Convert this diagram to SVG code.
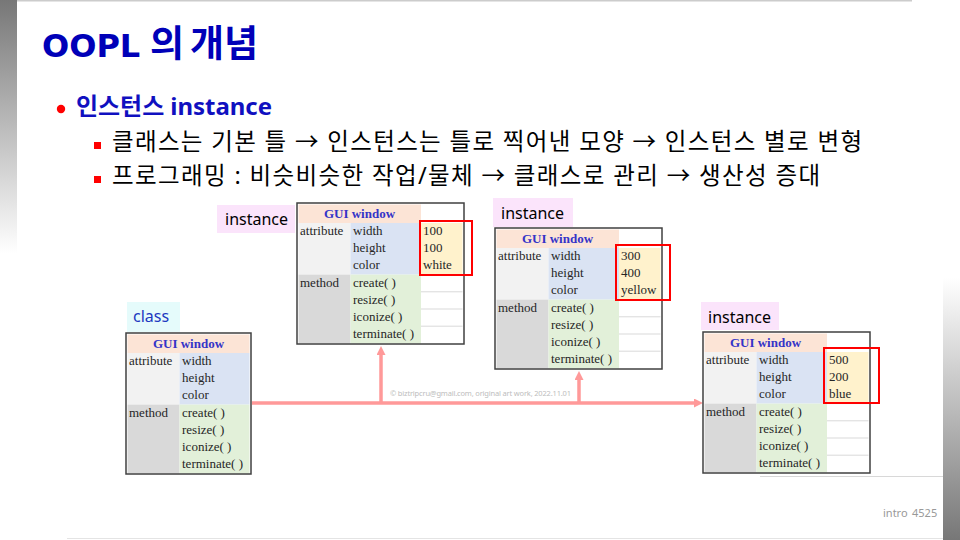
<svg xmlns="http://www.w3.org/2000/svg" xmlns:xlink="http://www.w3.org/1999/xlink" width="960" height="540" viewBox="0 0 960 540">
<defs>
<linearGradient id="gL" x1="0" y1="0" x2="0" y2="1"><stop offset="0" stop-color="#777777"/><stop offset="1" stop-color="#ffffff"/></linearGradient>
<linearGradient id="gR" x1="0" y1="0" x2="0" y2="1"><stop offset="0" stop-color="#ffffff"/><stop offset="1" stop-color="#777777"/></linearGradient>
<marker id="ah" markerWidth="10" markerHeight="10" refX="3" refY="4.5" orient="auto" markerUnits="userSpaceOnUse"><path d="M0,0 L9,4.5 L0,9 z" fill="#ff9999"/></marker>
<g id="instCells">
<rect x="1.5" y="1.5" width="122.5" height="18.5" class="hdr"/>
<rect x="1.5" y="20" width="52" height="51.6" class="al"/>
<rect x="53.5" y="20" width="70.5" height="51.6" class="av"/>
<rect x="124" y="20" width="41.5" height="51.6" class="ax"/>
<rect x="1.5" y="71.6" width="52" height="68.8" class="ml"/>
<rect x="53.5" y="71.6" width="70.5" height="68.8" class="mv"/>
<path d="M124 71.6 H165.5 M124 88.8 H165.5 M124 106 H165.5 M124 123.2 H165.5" class="sep"/>
<rect x="0" y="0" width="167" height="141" class="outer"/>
</g>
</defs>
<style>
.t{font-family:"Liberation Serif","DejaVu Serif",serif;font-size:13px;fill:#262626}
.h{font-weight:bold;fill:#3434c8;text-anchor:middle}
.outer{fill:none;stroke:#404040;stroke-width:1.5}
.hdr{fill:#fce4d6}.al{fill:#f2f2f2}.av{fill:#dae3f3}.ml{fill:#d9d9d9}.mv{fill:#e2f0d9}.ax{fill:#fff2cc}
.sep{stroke:#d9d9d9;stroke-width:1;fill:none}
.red{fill:none;stroke:#ff0000;stroke-width:2}
.conn{stroke:#ff9999;stroke-width:3.5;fill:none}
.lbl{font-family:"Noto Sans","Liberation Sans",sans-serif;font-size:16px;fill:#000}
.pink{fill:#fbe4fb}
.ko{font-family:"Noto Sans","Noto Sans CJK KR",sans-serif}
</style>
<rect x="0" y="0" width="960" height="540" fill="#ffffff"/>
<g id="decor">
<rect x="0" y="0" width="17" height="253" fill="url(#gL)"/>
<rect x="17" y="0" width="895" height="1.5" fill="#cccccc"/>
<rect x="943" y="278" width="17" height="262" fill="url(#gR)"/>
<line x1="760" y1="476.5" x2="943" y2="476.5" stroke="#d8d8d8" stroke-width="1"/>
<line x1="67" y1="538.5" x2="943" y2="538.5" stroke="#e4e4e4" stroke-width="1"/>
</g>
<g id="title">
<text y="57" font-weight="bold" fill="#0000b8"><tspan x="42" font-family="DejaVu Sans, sans-serif" font-size="32">OOPL</tspan><tspan x="150" font-family="Noto Sans CJK KR, sans-serif" font-size="37">의</tspan><tspan x="190" font-family="Noto Sans CJK KR, sans-serif" font-size="37">개념</tspan></text>
</g>
<g id="bullets">
<circle cx="61" cy="109" r="4.2" fill="#ff0000"/>
<text x="76" y="115" textLength="196" class="ko" font-size="24" font-weight="bold" fill="#1010c0">인스턴스 instance</text>
<rect x="94" y="142" width="7" height="7" fill="#ff0000"/>
<text x="112" y="150" textLength="750" class="ko" font-size="23.5" fill="#000">클래스는 기본 틀 → 인스턴스는 틀로 찍어낸 모양 → 인스턴스 별로 변형</text>
<rect x="94" y="176" width="7" height="7" fill="#ff0000"/>
<text x="112" y="183.5" textLength="708" class="ko" font-size="23.5" fill="#000">프로그래밍 : 비슷비슷한 작업/물체 → 클래스로 관리 → 생산성 증대</text>
</g>
<g id="connectors">
<path d="M252 403 H697" class="conn" marker-end="url(#ah)"/>
<path d="M381 403 V352" class="conn" marker-end="url(#ah)"/>
<path d="M579 403 V377" class="conn" marker-end="url(#ah)"/>
</g>
<text x="390" y="396" textLength="181" font-family="Noto Sans, sans-serif" font-size="7.5" fill="#bdbdbd">© biztripcru@gmail.com, original art work, 2022.11.01</text>
<g id="class">
<rect x="127" y="302" width="53" height="30" fill="#e5fbfb"/>
<text x="133" y="322" class="lbl" style="fill:#2038c0">class</text>
<g transform="translate(126,333)">
<rect x="1.5" y="1.5" width="122" height="18.5" class="hdr"/>
<rect x="1.5" y="20" width="52" height="51.6" class="al"/>
<rect x="53.5" y="20" width="70" height="51.6" class="av"/>
<rect x="1.5" y="71.6" width="52" height="68.8" class="ml"/>
<rect x="53.5" y="71.6" width="70" height="68.8" class="mv"/>
<rect x="0" y="0" width="125" height="141" class="outer"/>
<text x="62.5" y="15" class="t h">GUI window</text>
<text x="3" y="32" class="t">attribute</text>
<text x="56" y="32" class="t">width</text>
<text x="56" y="49.2" class="t">height</text>
<text x="56" y="66.4" class="t">color</text>
<text x="3" y="83.6" class="t">method</text>
<text x="56" y="83.6" class="t">create( )</text>
<text x="56" y="100.8" class="t">resize( )</text>
<text x="56" y="118" class="t">iconize( )</text>
<text x="56" y="135.2" class="t">terminate( )</text>
</g>
</g>
<g id="instance1">
<rect x="217" y="205" width="78" height="28" class="pink"/>
<text x="225" y="225" class="lbl">instance</text>
<g transform="translate(297,203)">
<use xlink:href="#instCells"/>
<text x="62.5" y="15" class="t h">GUI window</text>
<text x="3" y="32" class="t">attribute</text>
<text x="56" y="32" class="t">width</text>
<text x="56" y="49.2" class="t">height</text>
<text x="56" y="66.4" class="t">color</text>
<text x="3" y="83.6" class="t">method</text>
<text x="56" y="83.6" class="t">create( )</text>
<text x="56" y="100.8" class="t">resize( )</text>
<text x="56" y="118" class="t">iconize( )</text>
<text x="56" y="135.2" class="t">terminate( )</text>
<text x="126" y="32" class="t">100</text>
<text x="126" y="49.2" class="t">100</text>
<text x="126" y="66.4" class="t">white</text>
<rect x="123" y="18" width="52" height="54" class="red"/>
</g>
</g>
<g id="instance2">
<rect x="493" y="198" width="80" height="29" class="pink"/>
<text x="501" y="219" class="lbl">instance</text>
<g transform="translate(495,228)">
<use xlink:href="#instCells"/>
<text x="62.5" y="15" class="t h">GUI window</text>
<text x="3" y="32" class="t">attribute</text>
<text x="56" y="32" class="t">width</text>
<text x="56" y="49.2" class="t">height</text>
<text x="56" y="66.4" class="t">color</text>
<text x="3" y="83.6" class="t">method</text>
<text x="56" y="83.6" class="t">create( )</text>
<text x="56" y="100.8" class="t">resize( )</text>
<text x="56" y="118" class="t">iconize( )</text>
<text x="56" y="135.2" class="t">terminate( )</text>
<text x="126" y="32" class="t">300</text>
<text x="126" y="49.2" class="t">400</text>
<text x="126" y="66.4" class="t">yellow</text>
<rect x="121" y="17" width="54" height="55" class="red"/>
</g>
</g>
<g id="instance3">
<rect x="701" y="302" width="78" height="28" class="pink"/>
<text x="708" y="323" class="lbl">instance</text>
<g transform="translate(703,332)">
<use xlink:href="#instCells"/>
<text x="62.5" y="15" class="t h">GUI window</text>
<text x="3" y="32" class="t">attribute</text>
<text x="56" y="32" class="t">width</text>
<text x="56" y="49.2" class="t">height</text>
<text x="56" y="66.4" class="t">color</text>
<text x="3" y="83.6" class="t">method</text>
<text x="56" y="83.6" class="t">create( )</text>
<text x="56" y="100.8" class="t">resize( )</text>
<text x="56" y="118" class="t">iconize( )</text>
<text x="56" y="135.2" class="t">terminate( )</text>
<text x="126" y="32" class="t">500</text>
<text x="126" y="49.2" class="t">200</text>
<text x="126" y="66.4" class="t">blue</text>
<rect x="121" y="16" width="55" height="55" class="red"/>
</g>
</g>
<text y="517" font-family="Noto Sans, sans-serif" font-size="11" fill="#999999"><tspan x="883">intro</tspan><tspan x="912">4525</tspan></text>
</svg>
